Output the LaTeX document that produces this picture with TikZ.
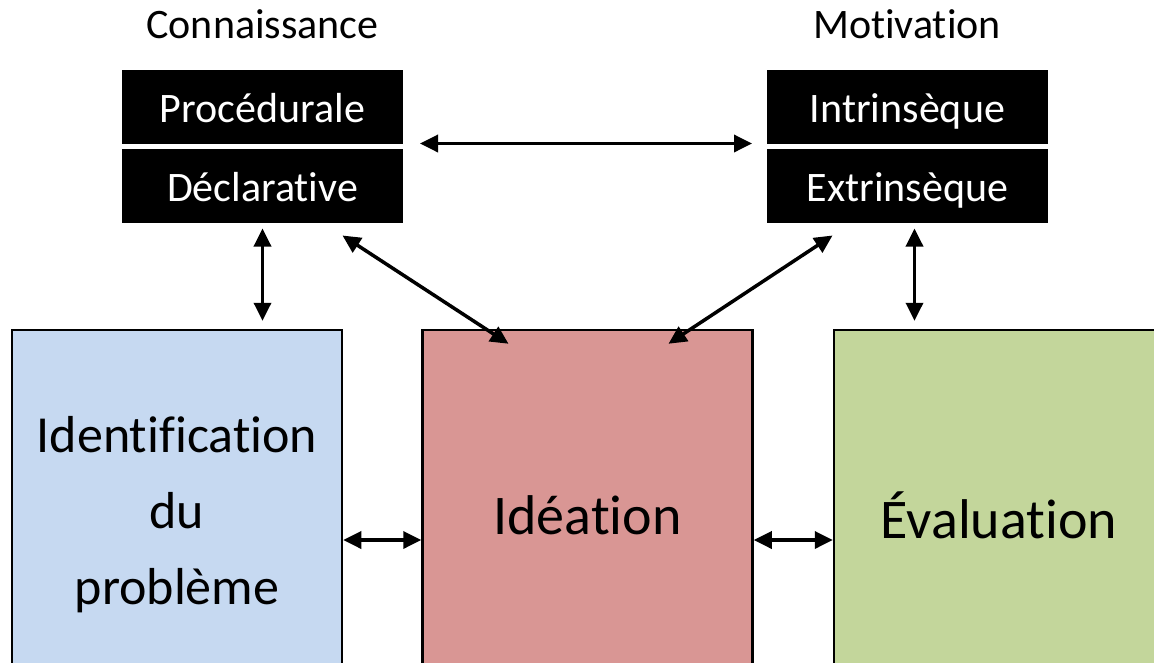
\documentclass[tikz,border=0pt]{standalone}
\usepackage{fontspec}
\setmainfont{Carlito}[Ligatures={NoCommon,NoContextual},Contextuals=NoAlternate]
\usetikzlibrary{arrows.meta}
\usetikzlibrary{positioning}

\definecolor{identblue}{HTML}{C6D9F1}
\definecolor{ideared}{HTML}{D99694}
\definecolor{evalgreen}{HTML}{C3D69B}

\begin{document}
\begin{tikzpicture}[x=1pt,y=-1pt,<->,>={Triangle[length=18pt,width=17pt]},line width=3.5pt,
                    cat node/.style={fill=black,text=white,minimum width=281pt,minimum height=74pt,
                      text height=32pt,text depth=0pt,inner sep=0pt,outer sep=0pt,
                      font=\fontsize{42}{50}\selectfont},
                    title node/.style={anchor=base,font=\fontsize{42}{50}\selectfont},
                    phase node/.style={draw,line width=2.5pt,minimum width=330pt,minimum height=370pt,
                      align=center,inner sep=0pt,font=\fontsize{52}{76}\selectfont},
                    big text/.style={font=\fontsize{56}{68}\selectfont}]

  \useasboundingbox (0,0) rectangle (1154,662);
  \clip (0,0) rectangle (1154,662);

  % knowledge and motivation
  \node[title node] (Conn) at (262.5,38) {Connaissance};
  \node[title node] (Motiv) at (907,38) {Motivation};
  \node[cat node] (Proc) at (262.5,106.5) {Procédurale};
  \node[cat node] (Decl) [below=5pt of Proc] {Déclarative};
  \node[cat node] (Int) [right=364pt of Proc] {Intrinsèque};
  \node[cat node] (Ext) [below=5pt of Int] {Extrinsèque};

  % phases
  \node[phase node,fill=identblue] (Ident) at (177,515) {Identification\\du\\problème};
  \node[phase node,big text,fill=ideared] (Idea) [right=78pt of Ident] {Idéation};
  \node[phase node,big text,fill=evalgreen] (Eval) [right=79pt of Idea] {Évaluation};

  \draw[shorten <=17pt,shorten >=15pt] (Proc.south east) -- (Int.south west);
  \draw[shorten <=6pt,shorten >=8pt] (Decl.south) -- (Decl.south |- Ident.north);
  \draw ([shift={(80,13)}]Decl.south) -- ([shift={(-79,15)}]Idea.north);
  \draw ([shift={(-75,13)}]Ext.south) -- ([shift={(81,15)}]Idea.north);
  \draw[shorten <=6pt,shorten >=8pt] ([xshift=7pt]Ext.south) -- ([xshift=7pt]Ext.south |- Eval.north);
  \draw ([yshift=-25pt]Ident.east) -- ([yshift=-25pt]Idea.west);
  \draw ([yshift=-25pt]Idea.east) -- ([yshift=-25pt]Eval.west);
\end{tikzpicture}
\end{document}
